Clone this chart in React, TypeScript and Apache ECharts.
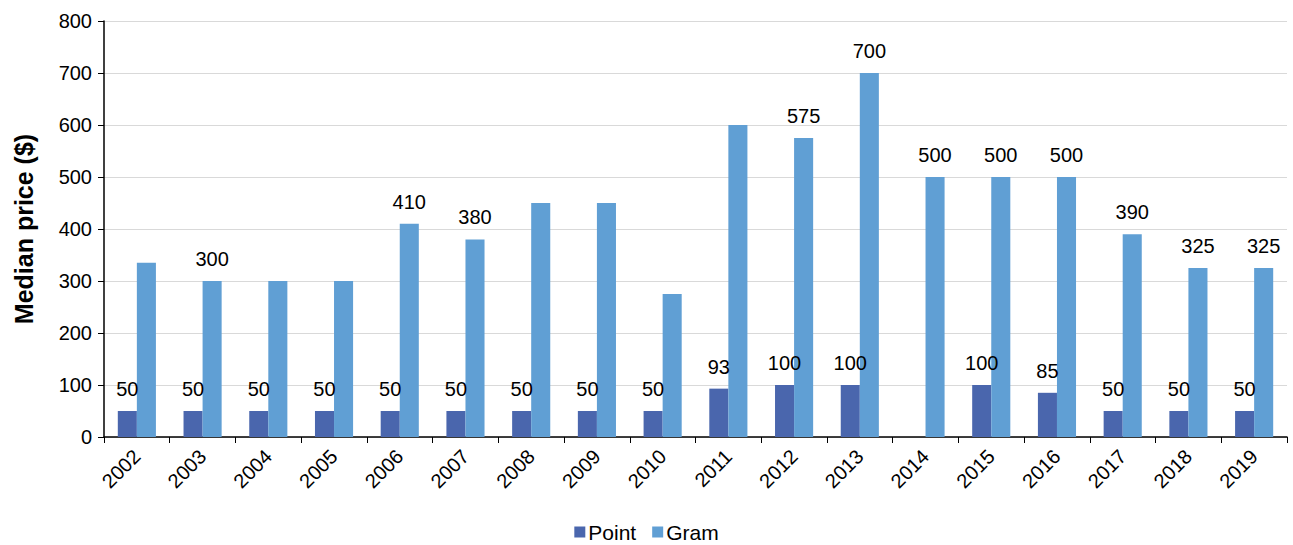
import React, { useEffect, useRef } from "react";
import * as echarts from "echarts";

const years = ["2002","2003","2004","2005","2006","2007","2008","2009","2010","2011","2012","2013","2014","2015","2016","2017","2018","2019"];
const pointValues: (number | null)[] = [50,50,50,50,50,50,50,50,50,93,100,100,null,100,85,50,50,50];
const gramValues = [335,300,300,300,410,380,450,450,275,600,575,700,500,500,500,390,325,325];
const gramLabelledYears = ["2003","2006","2007","2012","2013","2014","2015","2016","2017","2018","2019"];
const yTicks = [0,100,200,300,400,500,600,700,800];

const FONT = "'Liberation Sans', Arial, sans-serif";

export default function App() {
  const ref = useRef<HTMLDivElement>(null);
  useEffect(() => {
    if (!ref.current) return;
    const chart = echarts.init(ref.current, null, { renderer: "svg" });
    const labelBase = { show: true, position: "top", distance: 12, color: "#000", fontSize: 20, fontFamily: FONT };
    chart.setOption({
      animation: false,
      textStyle: { fontFamily: FONT },
      grid: { left: 104, right: 6, top: 21, bottom: 108 },
      legend: {
        top: 521,
        padding: 0,
        left: "center",
        itemWidth: 11,
        itemHeight: 11,
        itemGap: 16,
        icon: "rect",
        textStyle: { fontSize: 21, lineHeight: 22, color: "#000", fontFamily: FONT, padding: [0, 0, 0, -2] },
        data: ["Point", "Gram"],
      },
      xAxis: {
        type: "category",
        data: years,
        axisLine: { lineStyle: { color: "#000", width: 1.5 } },
        axisTick: { show: true, length: 6, lineStyle: { color: "#000" } },
        axisLabel: { rotate: 45, fontSize: 20, color: "#000", margin: 16, fontFamily: FONT },
      },
      yAxis: {
        type: "value",
        min: yTicks[0],
        max: yTicks[yTicks.length - 1],
        interval: 100,
        name: "Median price ($)",
        nameLocation: "middle",
        nameGap: 68,
        nameTextStyle: { fontSize: 25, fontWeight: "bold", color: "#000", fontFamily: FONT },
        axisLine: { show: true, lineStyle: { color: "#000", width: 1.5 } },
        axisTick: { show: true, length: 6, lineStyle: { color: "#000" } },
        axisLabel: { fontSize: 20, color: "#000", margin: 12, fontFamily: FONT },
        splitLine: { lineStyle: { color: "#d9d9d9", width: 1 } },
      },
      series: [
        {
          name: "Point",
          type: "bar",
          data: pointValues,
          itemStyle: { color: "#4a66ad" },
          barGap: "0%",
          barCategoryGap: "42%",
          label: labelBase,
        },
        {
          name: "Gram",
          type: "bar",
          data: gramValues.map((v, i) => ({
            value: v,
            label: { show: gramLabelledYears.includes(years[i]) },
          })),
          itemStyle: { color: "#609fd4" },
          barGap: "0%",
          barCategoryGap: "42%",
          label: labelBase,
        },
      ],
    });
    return () => chart.dispose();
  }, []);
  return <div ref={ref} style={{ width: 1293, height: 545, position: "absolute", left: 0, top: 0 }} />;
}
